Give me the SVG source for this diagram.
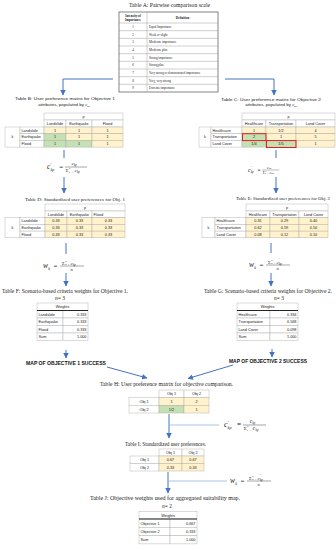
<svg xmlns="http://www.w3.org/2000/svg" width="336" height="550" viewBox="0 0 336 550">
<defs>
<marker id="ah" markerWidth="5.5" markerHeight="5.5" refX="5" refY="2.75" orient="auto" markerUnits="userSpaceOnUse"><path d="M0,0 L5.5,2.75 L0,5.5 z" fill="#4472C4"/></marker>
<style>
.ti{font-family:"Liberation Serif",serif;font-size:5.4px;fill:#222;text-anchor:middle}
.tb{font-family:"Liberation Sans",sans-serif;font-size:4.4px;fill:#222;text-anchor:middle}
.c{font-family:"Liberation Sans",sans-serif;font-size:3.8px;fill:#222;text-anchor:middle}
.cl{font-family:"Liberation Sans",sans-serif;font-size:3.8px;fill:#222}
.cr{font-family:"Liberation Sans",sans-serif;font-size:3.8px;fill:#222;text-anchor:end}
.a{font-family:"Liberation Serif",serif;font-size:3.2px;fill:#222}
.am{font-family:"Liberation Serif",serif;font-size:3.2px;fill:#222;text-anchor:middle}
.ab{font-family:"Liberation Serif",serif;font-size:3.2px;fill:#222;text-anchor:middle;font-weight:bold}
.w{fill:#fff;stroke:#a6a6a6;stroke-width:0.4}
.y{fill:#fff2cc;stroke:#a6a6a6;stroke-width:0.4}
.g{fill:#c5e0b3;stroke:#a6a6a6;stroke-width:0.4}
.red{fill:none;stroke:#e02020;stroke-width:1}
.f{font-family:"Liberation Serif",serif;fill:#222;font-style:italic}
.fn{font-family:"Liberation Serif",serif;fill:#222}
.fl{stroke:#222;stroke-width:0.4}
.ln{fill:none;stroke:#4472C4;stroke-width:1}
.lt{fill:none;stroke:#a9c4e8;stroke-width:1}
.map{font-family:"Liberation Sans",sans-serif;font-size:5px;font-weight:bold;fill:#111;text-anchor:middle}
.thick{stroke:#111;stroke-width:0.9}
</style>
<g id="fc">
<text class="f" x="0" y="2.3" font-size="7.5">c</text>
<text class="fn" x="3.5" y="-1" font-size="4.5">′</text>
<text class="f" x="3.4" y="4.2" font-size="4">kp</text>
<text class="fn" x="12.3" y="2.3" font-size="7">=</text>
<line class="fl" x1="18" y1="0" x2="40" y2="0"/>
<text class="f" x="24.5" y="-1.8" font-size="5">c</text>
<text class="f" x="27" y="-0.8" font-size="3">kp</text>
<text class="fn" x="18.8" y="4.6" font-size="4.5">Σ</text>
<text class="f" x="22" y="2" font-size="2.4">n</text>
<text class="f" x="22" y="5.6" font-size="2.4">k=1</text>
<text class="f" x="27.5" y="4.6" font-size="5">c</text>
<text class="f" x="30" y="5.6" font-size="3">kp</text>
</g>
<g id="fw">
<text class="f" x="0" y="2.3" font-size="7.5">w</text>
<text class="f" x="5.3" y="4" font-size="4">k</text>
<text class="fn" x="10.5" y="2.3" font-size="7">=</text>
<line class="fl" x1="17" y1="0" x2="41" y2="0"/>
<text class="fn" x="19" y="-1.4" font-size="4.5">Σ</text>
<text class="f" x="22.3" y="-4" font-size="2.4">n</text>
<text class="f" x="22.3" y="-0.6" font-size="2.4">p=1</text>
<text class="f" x="27.5" y="-1.4" font-size="5">c</text>
<text class="fn" x="30" y="-3.6" font-size="3">′</text>
<text class="f" x="30" y="-0.4" font-size="3">kp</text>
<text class="f" x="27.5" y="5.2" font-size="4.5">n</text>
</g>
</defs>
<rect width="336" height="550" fill="#fff"/>

<g id="connectors">
<polyline class="ln" points="113,79 63,79 63,95" marker-end="url(#ah)"/>
<polyline class="ln" points="225,79 274,79 274,95" marker-end="url(#ah)"/>
<line class="ln" x1="64" y1="150" x2="64" y2="158"/>
<line class="ln" x1="64" y1="177" x2="64" y2="193" marker-end="url(#ah)"/>
<line class="ln" x1="276" y1="150" x2="276" y2="158"/>
<line class="ln" x1="276" y1="177" x2="276" y2="193" marker-end="url(#ah)"/>
<line class="ln" x1="66" y1="243" x2="66" y2="254"/>
<line class="ln" x1="66" y1="273" x2="66" y2="286" marker-end="url(#ah)"/>
<line class="ln" x1="271" y1="243" x2="271" y2="253"/>
<line class="ln" x1="271" y1="273" x2="271" y2="286" marker-end="url(#ah)"/>
<line class="ln" x1="66" y1="350" x2="66" y2="358" marker-end="url(#ah)"/>
<line class="ln" x1="272" y1="349" x2="272" y2="357" marker-end="url(#ah)"/>
<line class="ln" x1="107" y1="367" x2="147" y2="378" marker-end="url(#ah)"/>
<line class="ln" x1="233" y1="365" x2="188" y2="378.5" marker-end="url(#ah)"/>
<line class="lt" x1="170" y1="425" x2="219" y2="425"/>
<line class="ln" x1="169" y1="414" x2="169" y2="438" marker-end="url(#ah)"/>
<line class="lt" x1="169" y1="481" x2="227" y2="481"/>
<line class="ln" x1="168" y1="472" x2="168" y2="493" marker-end="url(#ah)"/>
</g>

<g id="formulas">
<use href="#fc" transform="translate(47,167)"/>
<use href="#fc" transform="translate(248,170) scale(0.78)"/>
<use href="#fw" transform="translate(43,266)"/>
<use href="#fw" transform="translate(249,265)"/>
<use href="#fc" transform="translate(224,425) scale(1.05)"/>
<use href="#fw" transform="translate(230,481)"/>
</g>

<g id="tableA">
<text class="ti" x="169.5" y="7.4" textLength="81" lengthAdjust="spacingAndGlyphs">Table A: Pairwise comparison scale</text>
<rect x="119" y="12" width="99" height="80" fill="#fff" stroke="#666" stroke-width="0.8"/>
<line x1="147" y1="12" x2="147" y2="92" stroke="#888" stroke-width="0.4"/>
<g stroke="#888" stroke-width="0.4">
<line x1="119" y1="23" x2="218" y2="23"/>
<line x1="119" y1="30.67" x2="218" y2="30.67"/>
<line x1="119" y1="38.33" x2="218" y2="38.33"/>
<line x1="119" y1="46" x2="218" y2="46"/>
<line x1="119" y1="53.67" x2="218" y2="53.67"/>
<line x1="119" y1="61.33" x2="218" y2="61.33"/>
<line x1="119" y1="69" x2="218" y2="69"/>
<line x1="119" y1="76.67" x2="218" y2="76.67"/>
<line x1="119" y1="84.33" x2="218" y2="84.33"/>
</g>
<text class="ab" x="133" y="16.8">Intensity of</text>
<text class="ab" x="133" y="20.6">Importance</text>
<text class="ab" x="182.5" y="18.6">Definition</text>
<text class="am" x="133" y="28">1</text><text class="a" x="149" y="28">Equal Importance</text>
<text class="am" x="133" y="35.6">2</text><text class="a" x="149" y="35.6">Weak or slight</text>
<text class="am" x="133" y="43.3">3</text><text class="a" x="149" y="43.3">Moderate importance</text>
<text class="am" x="133" y="51">4</text><text class="a" x="149" y="51">Moderate plus</text>
<text class="am" x="133" y="58.6">5</text><text class="a" x="149" y="58.6">Strong importance</text>
<text class="am" x="133" y="66.3">6</text><text class="a" x="149" y="66.3">Strong plus</text>
<text class="am" x="133" y="74">7</text><text class="a" x="149" y="74">Very strong or demonstrated importance</text>
<text class="am" x="133" y="81.6">8</text><text class="a" x="149" y="81.6">Very, very strong</text>
<text class="am" x="133" y="89.3">9</text><text class="a" x="149" y="89.3">Extreme importance</text>
</g>

<g id="tableB">
<text class="tb" x="65" y="100" textLength="100" lengthAdjust="spacingAndGlyphs">Table B: User preference matrix for Objective 1</text>
<text class="tb" x="64" y="105.5">attributes, populated by <tspan font-family="Liberation Serif" font-style="italic">c</tspan><tspan font-family="Liberation Serif" font-style="italic" font-size="2.8" dy="1">kp</tspan></text>
<rect class="w" x="44" y="113" width="79" height="7"/><text class="c" x="83.5" y="117.9">p</text>
<rect class="w" x="44" y="120" width="22" height="7"/><text class="c" x="55" y="124.9">Landslide</text>
<rect class="w" x="66" y="120" width="26" height="7"/><text class="c" x="79" y="124.9">Earthquake</text>
<rect class="w" x="92" y="120" width="31" height="7"/><text class="c" x="107.5" y="124.9">Flood</text>
<rect class="w" x="5" y="127" width="15" height="20.1"/><text class="c" x="12.5" y="138.4">k</text>
<rect class="w" x="20" y="127" width="24" height="6.7"/><text class="cl" x="21.5" y="131.7">Landslide</text>
<rect class="w" x="20" y="133.7" width="24" height="6.7"/><text class="cl" x="21.5" y="138.4">Earthquake</text>
<rect class="w" x="20" y="140.4" width="24" height="6.7"/><text class="cl" x="21.5" y="145.1">Flood</text>
<rect class="y" x="44" y="127" width="22" height="6.7"/><text class="c" x="55" y="131.7">1</text>
<rect class="y" x="66" y="127" width="26" height="6.7"/><text class="c" x="79" y="131.7">1</text>
<rect class="y" x="92" y="127" width="31" height="6.7"/><text class="c" x="107.5" y="131.7">1</text>
<rect class="g" x="44" y="133.7" width="22" height="6.7"/><text class="c" x="55" y="138.4">1</text>
<rect class="y" x="66" y="133.7" width="26" height="6.7"/><text class="c" x="79" y="138.4">1</text>
<rect class="y" x="92" y="133.7" width="31" height="6.7"/><text class="c" x="107.5" y="138.4">1</text>
<rect class="g" x="44" y="140.4" width="22" height="6.7"/><text class="c" x="55" y="145.1">1</text>
<rect class="g" x="66" y="140.4" width="26" height="6.7"/><text class="c" x="79" y="145.1">1</text>
<rect class="y" x="92" y="140.4" width="31" height="6.7"/><text class="c" x="107.5" y="145.1">1</text>
</g>

<g id="tableC">
<text class="tb" x="271" y="100.5" textLength="100" lengthAdjust="spacingAndGlyphs">Table C: User preference matrix for Objective 2</text>
<text class="tb" x="271" y="106">attributes, populated by <tspan font-family="Liberation Serif" font-style="italic">c</tspan><tspan font-family="Liberation Serif" font-style="italic" font-size="2.8" dy="1">kp</tspan></text>
<rect class="w" x="242" y="113" width="93" height="7"/><text class="c" x="288.5" y="117.9">p</text>
<rect class="w" x="242" y="120" width="24" height="7"/><text class="c" x="254" y="124.9">Healthcare</text>
<rect class="w" x="266" y="120" width="30" height="7"/><text class="c" x="281" y="124.9">Transportation</text>
<rect class="w" x="296" y="120" width="39" height="7"/><text class="c" x="315.5" y="124.9">Land Cover</text>
<rect class="w" x="199" y="127" width="12" height="20.1"/><text class="c" x="205" y="138.4">k</text>
<rect class="w" x="211" y="127" width="31" height="6.7"/><text class="cl" x="212.5" y="131.7">Healthcare</text>
<rect class="w" x="211" y="133.7" width="31" height="6.7"/><text class="cl" x="212.5" y="138.4">Transportation</text>
<rect class="w" x="211" y="140.4" width="31" height="6.7"/><text class="cl" x="212.5" y="145.1">Land Cover</text>
<rect class="y" x="242" y="127" width="24" height="6.7"/><text class="c" x="254" y="131.7">1</text>
<rect class="y" x="266" y="127" width="30" height="6.7"/><text class="c" x="281" y="131.7">1/2</text>
<rect class="y" x="296" y="127" width="39" height="6.7"/><text class="c" x="315.5" y="131.7">4</text>
<rect class="g" x="242" y="133.7" width="24" height="6.7"/><text class="c" x="254" y="138.4">2</text>
<rect class="y" x="266" y="133.7" width="30" height="6.7"/><text class="c" x="281" y="138.4">1</text>
<rect class="y" x="296" y="133.7" width="39" height="6.7"/><text class="c" x="315.5" y="138.4">5</text>
<rect class="g" x="242" y="140.4" width="24" height="6.7"/><text class="c" x="254" y="145.1">1/4</text>
<rect class="g" x="266" y="140.4" width="30" height="6.7"/><text class="c" x="281" y="145.1">1/5</text>
<rect class="y" x="296" y="140.4" width="39" height="6.7"/><text class="c" x="315.5" y="145.1">1</text>
<rect class="red" x="242.5" y="133.7" width="23.5" height="6.9"/>
<rect class="red" x="266.5" y="140.6" width="29.5" height="6.9"/>
</g>

<g id="tableD">
<text class="ti" x="75" y="200.5" style="font-size:4.6px" textLength="100" lengthAdjust="spacingAndGlyphs">Table D: Standardized user preferences for Obj. 1</text>
<rect class="w" x="45" y="204" width="80" height="7"/><text class="c" x="85" y="208.9">p</text>
<rect class="w" x="45" y="211" width="22" height="6.7"/><text class="c" x="56" y="215.7">Landslide</text>
<rect class="w" x="67" y="211" width="25" height="6.7"/><text class="c" x="79.5" y="215.7">Earthquake</text>
<rect class="w" x="92" y="211" width="33" height="6.7"/><text class="cl" x="93.5" y="215.7">Flood</text>
<rect class="w" x="5" y="217.7" width="15" height="20.1"/><text class="c" x="12.5" y="229.1">k</text>
<rect class="w" x="20" y="217.7" width="25" height="6.7"/><text class="cl" x="21.5" y="222.4">Landslide</text>
<rect class="w" x="20" y="224.4" width="25" height="6.7"/><text class="cl" x="21.5" y="229.1">Earthquake</text>
<rect class="w" x="20" y="231.1" width="25" height="6.7"/><text class="cl" x="21.5" y="235.8">Flood</text>
<rect class="y" x="45" y="217.7" width="22" height="6.7"/><text class="c" x="56" y="222.4">0.33</text>
<rect class="y" x="67" y="217.7" width="25" height="6.7"/><text class="c" x="79.5" y="222.4">0.33</text>
<rect class="y" x="92" y="217.7" width="33" height="6.7"/><text class="c" x="108.5" y="222.4">0.33</text>
<rect class="y" x="45" y="224.4" width="22" height="6.7"/><text class="c" x="56" y="229.1">0.33</text>
<rect class="y" x="67" y="224.4" width="25" height="6.7"/><text class="c" x="79.5" y="229.1">0.33</text>
<rect class="y" x="92" y="224.4" width="33" height="6.7"/><text class="c" x="108.5" y="229.1">0.33</text>
<rect class="y" x="45" y="231.1" width="22" height="6.7"/><text class="c" x="56" y="235.8">0.33</text>
<rect class="y" x="67" y="231.1" width="25" height="6.7"/><text class="c" x="79.5" y="235.8">0.33</text>
<rect class="y" x="92" y="231.1" width="33" height="6.7"/><text class="c" x="108.5" y="235.8">0.33</text>
</g>

<g id="tableE">
<text class="ti" x="283" y="199.5" style="font-size:4.4px" textLength="94" lengthAdjust="spacingAndGlyphs">Table E: Standardized user preferences for Obj. 2</text>
<rect class="w" x="246" y="204" width="82" height="7"/><text class="c" x="287" y="208.9">p</text>
<rect class="w" x="246" y="211" width="24" height="6.7"/><text class="c" x="258" y="215.7">Healthcare</text>
<rect class="w" x="270" y="211" width="29" height="6.7"/><text class="c" x="284.5" y="215.7">Transportation</text>
<rect class="w" x="299" y="211" width="29" height="6.7"/><text class="c" x="313.5" y="215.7">Land Cover</text>
<rect class="w" x="202" y="217.7" width="13" height="20.1"/><text class="c" x="208.5" y="229.1">k</text>
<rect class="w" x="215" y="217.7" width="31" height="6.7"/><text class="cl" x="216.5" y="222.4">Healthcare</text>
<rect class="w" x="215" y="224.4" width="31" height="6.7"/><text class="cl" x="216.5" y="229.1">Transportation</text>
<rect class="w" x="215" y="231.1" width="31" height="6.7"/><text class="cl" x="216.5" y="235.8">Land Cover</text>
<rect class="y" x="246" y="217.7" width="24" height="6.7"/><text class="c" x="258" y="222.4">0.31</text>
<rect class="y" x="270" y="217.7" width="29" height="6.7"/><text class="c" x="284.5" y="222.4">0.29</text>
<rect class="y" x="299" y="217.7" width="29" height="6.7"/><text class="c" x="313.5" y="222.4">0.40</text>
<rect class="y" x="246" y="224.4" width="24" height="6.7"/><text class="c" x="258" y="229.1">0.62</text>
<rect class="y" x="270" y="224.4" width="29" height="6.7"/><text class="c" x="284.5" y="229.1">0.59</text>
<rect class="y" x="299" y="224.4" width="29" height="6.7"/><text class="c" x="313.5" y="229.1">0.50</text>
<rect class="y" x="246" y="231.1" width="24" height="6.7"/><text class="c" x="258" y="235.8">0.08</text>
<rect class="y" x="270" y="231.1" width="29" height="6.7"/><text class="c" x="284.5" y="235.8">0.12</text>
<rect class="y" x="299" y="231.1" width="29" height="6.7"/><text class="c" x="313.5" y="235.8">0.10</text>
</g>

<g id="tableF">
<text class="ti" x="65" y="292.5" textLength="126" lengthAdjust="spacingAndGlyphs">Table F: Scenario-based criteria weights for Objective 1.</text>
<text class="ti" x="60" y="299.5"><tspan font-style="italic">n</tspan>= 3</text>
<rect class="w" x="37" y="303" width="51" height="7.5"/><text class="c" x="62.5" y="308.2">Weights</text>
<rect class="w" x="37" y="310.5" width="26" height="7.5"/><rect class="w" x="63" y="310.5" width="25" height="7.5"/>
<rect class="w" x="37" y="318" width="26" height="7.5"/><rect class="w" x="63" y="318" width="25" height="7.5"/>
<rect class="w" x="37" y="325.5" width="26" height="7.5"/><rect class="w" x="63" y="325.5" width="25" height="7.5"/>
<rect class="w" x="37" y="333" width="26" height="7.5"/><rect class="w" x="63" y="333" width="25" height="7.5"/>
<line class="thick" x1="37" y1="310.5" x2="88" y2="310.5"/>
<text class="cl" x="38.5" y="315.6">Landslide</text><text class="cr" x="86.5" y="315.6">0.333</text>
<text class="cl" x="38.5" y="323.1">Earthquake</text><text class="cr" x="86.5" y="323.1">0.333</text>
<text class="cl" x="38.5" y="330.6">Flood</text><text class="cr" x="86.5" y="330.6">0.333</text>
<text class="cl" x="38.5" y="338.1">Sum</text><text class="cr" x="86.5" y="338.1">1.000</text>
</g>

<g id="tableG">
<text class="ti" x="268" y="292.5" textLength="128" lengthAdjust="spacingAndGlyphs">Table G: Scenario-based criteria weights for Objective 2.</text>
<text class="ti" x="279" y="299.5"><tspan font-style="italic">n</tspan>= 3</text>
<rect class="w" x="237" y="303" width="61" height="7.5"/><text class="c" x="267.5" y="308.2">Weights</text>
<rect class="w" x="237" y="310.5" width="33" height="7.5"/><rect class="w" x="270" y="310.5" width="28" height="7.5"/>
<rect class="w" x="237" y="318" width="33" height="7.5"/><rect class="w" x="270" y="318" width="28" height="7.5"/>
<rect class="w" x="237" y="325.5" width="33" height="7.5"/><rect class="w" x="270" y="325.5" width="28" height="7.5"/>
<rect class="w" x="237" y="333" width="33" height="7.5"/><rect class="w" x="270" y="333" width="28" height="7.5"/>
<line class="thick" x1="237" y1="310.5" x2="298" y2="310.5"/>
<text class="cl" x="238.5" y="315.6">Healthcare</text><text class="cr" x="296.5" y="315.6">0.334</text>
<text class="cl" x="238.5" y="323.1">Transportation</text><text class="cr" x="296.5" y="323.1">0.568</text>
<text class="cl" x="238.5" y="330.6">Land Cover</text><text class="cr" x="296.5" y="330.6">0.098</text>
<text class="cl" x="238.5" y="338.1">Sum</text><text class="cr" x="296.5" y="338.1">1.000</text>
</g>

<g id="map1"><text class="map" x="66" y="364.8" textLength="80" lengthAdjust="spacingAndGlyphs">MAP OF OBJECTIVE 1 SUCCESS</text></g>
<g id="map2"><text class="map" x="268" y="363" textLength="78" lengthAdjust="spacingAndGlyphs">MAP OF OBJECTIVE 2 SUCCESS</text></g>

<g id="tableH">
<text class="ti" x="166.5" y="386" textLength="133" lengthAdjust="spacingAndGlyphs">Table H: User preference matrix for objective comparison.</text>
<rect class="w" x="159" y="390" width="25" height="7.5"/><text class="c" x="171.5" y="395.1">Obj 1</text>
<rect class="w" x="184" y="390" width="25" height="7.5"/><text class="c" x="196.5" y="395.1">Obj 2</text>
<rect class="w" x="129" y="397.5" width="30" height="7.75"/><text class="c" x="144" y="402.7">Obj 1</text>
<rect class="w" x="129" y="405.25" width="30" height="7.75"/><text class="c" x="144" y="410.5">Obj 2</text>
<rect class="y" x="159" y="397.5" width="25" height="7.75"/><text class="c" x="171.5" y="402.7">1</text>
<rect class="y" x="184" y="397.5" width="25" height="7.75"/><text class="c" x="196.5" y="402.7">2</text>
<rect class="g" x="159" y="405.25" width="25" height="7.75"/><text class="c" x="171.5" y="410.5">1/2</text>
<rect class="y" x="184" y="405.25" width="25" height="7.75"/><text class="c" x="196.5" y="410.5">1</text>
</g>

<g id="tableI">
<text class="ti" x="165.5" y="446" textLength="81" lengthAdjust="spacingAndGlyphs">Table I: Standardized user preferences.</text>
<rect class="w" x="159" y="449" width="23" height="7"/><text class="c" x="170.5" y="453.9">Obj 1</text>
<rect class="w" x="182" y="449" width="22" height="7"/><text class="c" x="193" y="453.9">Obj 2</text>
<rect class="w" x="130" y="456" width="29" height="7.5"/><text class="c" x="144.5" y="461.1">Obj 1</text>
<rect class="w" x="130" y="463.5" width="29" height="7.5"/><text class="c" x="144.5" y="468.6">Obj 2</text>
<rect class="y" x="159" y="456" width="23" height="7.5"/><text class="c" x="170.5" y="461.1">0.67</text>
<rect class="y" x="182" y="456" width="22" height="7.5"/><text class="c" x="193" y="461.1">0.67</text>
<rect class="y" x="159" y="463.5" width="23" height="7.5"/><text class="c" x="170.5" y="468.6">0.33</text>
<rect class="y" x="182" y="463.5" width="22" height="7.5"/><text class="c" x="193" y="468.6">0.33</text>
</g>

<g id="tableJ">
<text class="ti" x="165" y="500" textLength="150" lengthAdjust="spacingAndGlyphs">Table J: Objective weights used for aggregated suitability map.</text>
<text class="ti" x="167" y="508"><tspan font-style="italic">n</tspan>= 2</text>
<rect class="w" x="139" y="511.5" width="58" height="7.5"/><text class="c" x="168" y="516.7">Weights</text>
<rect class="w" x="139" y="519" width="31" height="8.3"/><rect class="w" x="170" y="519" width="27" height="8.3"/>
<rect class="w" x="139" y="527.3" width="31" height="8.3"/><rect class="w" x="170" y="527.3" width="27" height="8.3"/>
<rect class="w" x="139" y="535.6" width="31" height="8.3"/><rect class="w" x="170" y="535.6" width="27" height="8.3"/>
<line class="thick" x1="139" y1="519" x2="197" y2="519"/>
<text class="cl" x="140.5" y="524.5">Objective 1</text><text class="cr" x="195.5" y="524.5">0.667</text>
<text class="cl" x="140.5" y="532.8">Objective 2</text><text class="cr" x="195.5" y="532.8">0.333</text>
<text class="cl" x="140.5" y="541.1">Sum</text><text class="cr" x="195.5" y="541.1">1.000</text>
</g>
</svg>
